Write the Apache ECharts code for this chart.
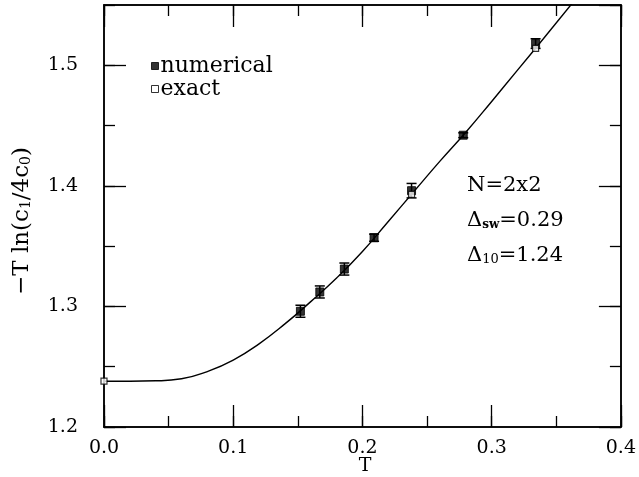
<!DOCTYPE html>
<html>
<head>
<meta charset="utf-8">
<script src="https://cdn.jsdelivr.net/npm/echarts@6/dist/echarts.min.js"></script>
<style>
  html, body { margin: 0; padding: 0; background: #fff; }
  #chart { width: 639px; height: 477px; }
</style>
</head>
<body>
<div id="chart"></div>
<script>
// numerical (Monte Carlo) points with error bars
var numT = [0.152, 0.167, 0.186, 0.209, 0.238, 0.278, 0.334];
var numVal = [1.296, 1.312, 1.331, 1.357, 1.396, 1.442, 1.518];
var numErr = [0.005, 0.005, 0.005, 0.003, 0.006, 0.002, 0.004];

// exact points
var exactT = [0.0, 0.238, 0.334];
var exactVal = [1.238, 1.393, 1.514];

// curve
var curveT = [0.0, 0.02, 0.04, 0.06, 0.08, 0.10, 0.12, 0.14, 0.16, 0.18, 0.20, 0.22, 0.24, 0.26, 0.28, 0.30, 0.32, 0.34, 0.362];
var curveVal = [1.238, 1.238, 1.2383, 1.2400, 1.2460, 1.2555, 1.2690, 1.2855, 1.3040, 1.3235, 1.3455, 1.3705, 1.3955, 1.4205, 1.4445, 1.4700, 1.4960, 1.5220, 1.5510];

var xTicks = ['0.0', '0.1', '0.2', '0.3', '0.4'];
var yTicks = ['1.2', '1.3', '1.4', '1.5'];

var chart = echarts.init(document.getElementById('chart'));

var serif = '"DejaVu Serif", "Liberation Serif", serif';
var black = '#000';

function pair(xs, ys) {
    var out = [];
    for (var i = 0; i < xs.length; i++) out.push([xs[i], ys[i]]);
    return out;
}

// build axis sets: major (long ticks) and minor (short ticks) on each side
function xAxisDef(pos, interval, len, labels) {
    return {
        type: 'value', position: pos, min: 0, max: 0.4, interval: interval,
        axisLine: { show: true, onZero: false, lineStyle: { color: black, width: 1.5 } },
        axisTick: { show: true, inside: true, length: len, lineStyle: { color: black, width: 1.3 } },
        splitLine: { show: false },
        axisLabel: labels ? {
            show: true, margin: 12, color: black, fontFamily: serif, fontSize: 19,
            formatter: function (v) { return xTicks[Math.round(v * 10)] || ''; }
        } : { show: false }
    };
}
function yAxisDef(pos, interval, len, labels) {
    return {
        type: 'value', position: pos, min: 1.2, max: 1.55, interval: interval,
        axisLine: { show: true, onZero: false, lineStyle: { color: black, width: 1.5 } },
        axisTick: { show: true, inside: true, length: len, lineStyle: { color: black, width: 1.3 } },
        splitLine: { show: false },
        axisLabel: labels ? {
            show: true, margin: 26, color: black, fontFamily: serif, fontSize: 19, showMaxLabel: false,
            formatter: function (v) {
                var k = Math.round((v - 1.2) * 10);
                return Math.abs(v - (1.2 + k * 0.1)) < 1e-6 ? (yTicks[k] || '') : '';
            }
        } : { show: false }
    };
}

chart.setOption({
    animation: false,
    backgroundColor: '#fff',
    grid: { left: 104, right: 16, top: 5, bottom: 50, containLabel: false },
    xAxis: [
        xAxisDef('bottom', 0.1, 22, true),
        xAxisDef('bottom', 0.05, 11, false),
        xAxisDef('top', 0.1, 22, false),
        xAxisDef('top', 0.05, 11, false)
    ],
    yAxis: [
        yAxisDef('left', 0.1, 22, true),
        yAxisDef('left', 0.05, 11, false),
        yAxisDef('right', 0.1, 22, false),
        yAxisDef('right', 0.05, 11, false)
    ],
    legend: {
        orient: 'vertical', left: 151, top: 55, itemGap: 1, padding: 0,
        itemWidth: 7, itemHeight: 7, icon: 'rect',
        textStyle: { fontFamily: serif, fontSize: 22, color: black, padding: [0, 0, 0, -3] },
        data: [
            { name: 'numerical', itemStyle: { color: black, borderColor: black, borderWidth: 1 } },
            { name: 'exact', itemStyle: { color: '#fff', borderColor: black, borderWidth: 1 } }
        ]
    },
    graphic: [
        {
            type: 'text', x: 22, y: 221, rotation: Math.PI / 2,
            style: {
                text: '\u2212T ln(c{s|1}/4c{s|0})', align: 'center', verticalAlign: 'middle',
                font: '23px ' + serif, fill: black,
                rich: { s: { fontSize: 14, fontFamily: serif, verticalAlign: 'bottom', padding: [7, 0, 0, 0] } }
            }
        },
        {
            type: 'text', x: 365, y: 466,
            style: { text: 'T', align: 'center', verticalAlign: 'middle', font: '19px ' + serif, fill: black }
        },
        {
            type: 'text', x: 467, y: 186,
            style: { text: 'N=2x2', verticalAlign: 'middle', font: '21px ' + serif, fill: black }
        },
        {
            type: 'text', x: 467, y: 221,
            style: {
                text: '\u0394{s|sw}=0.29', verticalAlign: 'middle', font: '21px ' + serif, fill: black,
                rich: { s: { fontSize: 12, fontWeight: 'bold', fontFamily: serif, padding: [8, 0, 0, 0] } }
            }
        },
        {
            type: 'text', x: 467, y: 256,
            style: {
                text: '\u0394{s|10}=1.24', verticalAlign: 'middle', font: '21px ' + serif, fill: black,
                rich: { s: { fontSize: 13, fontFamily: serif, padding: [8, 0, 0, 0] } }
            }
        }
    ],
    series: [
        {
            name: 'curve', type: 'line', xAxisIndex: 0, yAxisIndex: 0,
            data: pair(curveT, curveVal), smooth: 0.5, showSymbol: false, symbol: 'none',
            lineStyle: { color: black, width: 1.4 }, silent: true, z: 2
        },
        {
            name: 'errors', type: 'custom', xAxisIndex: 0, yAxisIndex: 0, z: 3, silent: true,
            data: numT.map(function (t, i) { return [t, numVal[i] - numErr[i], numVal[i] + numErr[i]]; }),
            renderItem: function (params, api) {
                var lo = api.coord([api.value(0), api.value(1)]);
                var hi = api.coord([api.value(0), api.value(2)]);
                var w = 5;
                var st = { stroke: black, lineWidth: 1.5 };
                return {
                    type: 'group', children: [
                        { type: 'line', shape: { x1: lo[0], y1: lo[1], x2: hi[0], y2: hi[1] }, style: st },
                        { type: 'line', shape: { x1: lo[0] - w, y1: lo[1], x2: lo[0] + w, y2: lo[1] }, style: st },
                        { type: 'line', shape: { x1: hi[0] - w, y1: hi[1], x2: hi[0] + w, y2: hi[1] }, style: st }
                    ]
                };
            }
        },
        {
            name: 'numerical', type: 'scatter', xAxisIndex: 0, yAxisIndex: 0, z: 4,
            data: pair(numT, numVal), symbol: 'rect', symbolSize: 8,
            itemStyle: { color: black, borderColor: black, borderWidth: 1 }
        },
        {
            name: 'exact', type: 'scatter', xAxisIndex: 0, yAxisIndex: 0, z: 5,
            data: pair(exactT, exactVal), symbol: 'rect', symbolSize: 6,
            itemStyle: { color: '#fff', borderColor: black, borderWidth: 1.2 }
        }
    ]
});
</script>
</body>
</html>
